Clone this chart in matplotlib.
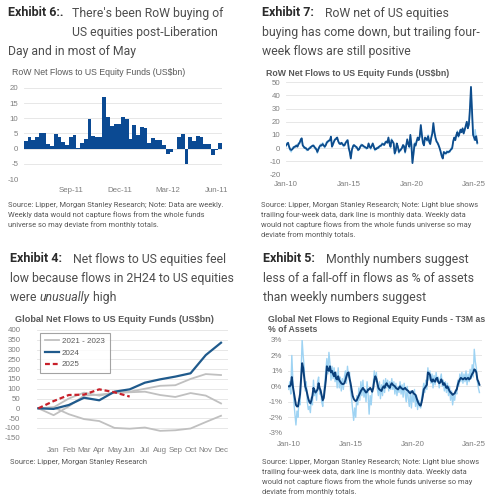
import matplotlib
matplotlib.use("Agg")
import matplotlib.pyplot as plt
from matplotlib.ticker import FuncFormatter
from matplotlib.lines import Line2D

plt.rcParams["axes.unicode_minus"] = False

# ---------------- DATA ----------------
# Exhibit 6: weekly RoW net flows to US equity funds (US$bn)
row_weekly = [2.6, 3.8, 2.7, 3.9, 5.3, 5.2, 1.4, 1.0, 4.7, 3.7,
              2.3, 1.2, 3.8, 4.4, 0.1, 1.8, 3.3, 9.7, 4.3, 3.8,
              3.8, 16.9, 10.4, 7.5, 8.0, 8.1, 10.3, 9.8, 3.3, 7.9,
              4.5, 7.2, 6.8, 2.0, 3.5, 2.9, 2.9, 1.3, -1.8, -1.2,
              0.0, 4.0, 4.7, -5.1, 3.8, 2.4, 4.3, 3.7, 1.5, 1.6,
              -2.0, -0.3, 1.8]
ex6_tick_pos = [12, 25, 38, 51]
ex6_tick_labels = ["Sep-11", "Dec-11", "Mar-12", "Jun-11"]

# Exhibit 7: RoW net flows, monthly (dark) and trailing four-week (light), Jan-10 onwards
ex7_monthly = [2, 3, 4, 1, -1, -1.5, -1, 0, 1, 1, 2, 1,
               3, 4, 6, 7.4, 2, 1, 0, 0, -1, -1.5, -0.5, 0,
               1, 1.5, 2, 1, 0, -1, -3, -1, 1, 2, 2, 3,
               2, 1, 2, 4, 5, 5.6, 6, 8.6, 1, 3, 5, 6.6,
               7, 8, 5, 3.5, 3, 4, 3, 2, 2, 4, 5, 6,
               0, -3, -8, -1.5, 1, 2.3, 1.5, 1, 0, -1.5, -1, 1,
               2, 2.3, 1.5, 1, 0.5, 0, 0, 3.5, 1, 0, 1.5, 3.5,
               1, -1, -1, 0, 0, 1, 1.5, 2, 3, 3, 2.3, 4,
               5, 4, 8, 3.5, 1, 6, 5, 3.5, -4, -2, 3.5, 1,
               -3, -2, -1, 0, 2.3, 1, -3, 2, 6.6, 3, 1, 10,
               2, -11.5, -4, 3, 2, 5, 8, 6, 9, 17.5, 10, 4,
               2, 8, 7, 6, 9, 5, 3, 8, 11, 19, 12, 8,
               5, 4, 2, 0, -3, -6, -8, -3, -4, -4, -3, -3,
               -3, -2, -1, 0, 5, 8, 6, 10, 12, 9, 11, 14,
               12, 15, 11, 14, 17, 20, 15, 18, 30, 46.5, 28, 10,
               8, 6, 9, 4]
ex7_trailing = [1, 4, 3, 0, -2, -3, 0, 1, 0, 2, 1, 2,
                4, 3, 7, 6, 3, 0, 1, -1, -2, -1, 0, 1,
                0, 2, 1, 2, -1, 0, -4, 0, 0, 3, 1, 4,
                3, 0, 3, 5, 4, 6, 5, 9, 2, 2, 6, 6,
                8, 7, 6, 3, 4, 3, 4, 1, 3, 3, 6, 5,
                1, -4, -7, -3, 2, 1, 2, 0, 1, -2, 0, 0,
                3, 1, 2, 0, 1, -1, 1, 3, 2, -1, 2, 3,
                2, -2, 0, -1, 1, 0, 2, 1, 4, 2, 3, 5,
                4, 5, 7, 4, 0, 7, 4, 4, -5, -1, 2, 2,
                -4, -1, -2, 1, 1, 2, -4, 3, 5, 4, 0, 9,
                3, -10, -5, 4, 1, 6, 7, 7, 8, 16, 11, 3,
                3, 7, 8, 5, 10, 4, 4, 7, 12, 17, 13, 7,
                6, 3, 3, -1, -2, -7, -7, -4, -3, -5, -2, -4,
                -2, -3, 0, -1, 6, 7, 7, 9, 13, 8, 12, 13,
                13, 14, 12, 13, 16, 19, 16, 17, 28, 44, 26, 12,
                6, 14, 7, 3]
date_tick_pos = [0, 60, 120, 180]
date_tick_labels = ["Jan-10", "Jan-15", "Jan-20", "Jan-25"]

# Exhibit 4: cumulative global net flows to US equity funds (US$bn)
ex4_categories = ["", "Jan", "Feb", "Mar", "Apr", "May", "Jun", "Jul",
                  "Aug", "Sep", "Oct", "Nov", "Dec"]
flows_2021 = [0, 5, 50, 80, 65, 80, 85, 100, 115, 118, 150, 175, 170]
flows_2022 = [0, 5, -30, -55, -65, -100, -104, -98, -115, -112, -103, -70, -38]
flows_2023 = [0, -35, 10, 65, 70, 78, 82, 85, 68, 58, 78, 65, 25]
flows_2024 = [0, -3, 17, 54, 41, 85, 97, 131, 148, 162, 179, 272, 335]
flows_2025 = [0, 37, 68, 70, 97, 82, 60]

# Exhibit 5: T3M flows as % of assets, monthly (dark) and trailing four-week (light)
ex5_monthly = [0, 0, 0.1, 0.6, 0, -0.4, -0.8, -1.2, -1.3, -1.3, -0.9, -0.5,
               0.5, 1.5, 1.2, 0.6, 0, -0.2, -0.5, -0.8, -1.0, -1.1, -0.9, -0.6,
               -0.1, -0.3, -0.4, -0.3, -0.2, 0.2, -0.1, -0.3, -0.6, -0.9, -0.75, -0.2,
               0.4, 1.3, 1.1, 1.0, 1.3, 0.9, 1.0, 0.8, 0.65, 0.9, 0.5, 0.45,
               0.65, 0.4, 0.3, 0.2, 0.15, 0.15, 0.2, 0.4, 0.65, 0.85, 0.9, 0.5,
               0.2, -0.2, -0.6, -0.8, -0.9, -0.95, -0.9, -0.75, -0.6, -0.45, -0.3, -0.2,
               -0.1, -0.2, -0.3, -0.4, -0.35, -0.2, -0.2, -0.1, -0.2, -0.35, -0.1, 0.4,
               0.65, 0.5, 0.2, -0.1, -0.2, -0.25, -0.3, -0.1, 0, -0.1, 0.1, 0.2,
               0.05, 0, -0.1, 0.1, 0.2, 0.1, 0.05, 0, -0.1, -0.15, -0.2, -0.1,
               0, -0.1, -0.15, -0.2, -0.15, -0.1, -0.2, -0.25, -0.3, -0.4, -0.45, -0.35,
               -0.3, -0.45, -0.5, -0.55, -0.75, -0.95, -1.1, -1.2, -1.25, -1.0, -0.65, -0.2,
               -0.1, 0, 0.1, 0.9, 0.85, 0.75, 0.4, 0.3, 0.45, 0.35, 0.3, 0.5,
               0.55, 0.3, 0.2, 0.25, 0.45, 0.3, 0.1, 0.2, 0.05, -0.1, 0, -0.15,
               -0.3, -0.4, -0.45, -0.55, -0.5, -0.45, -0.3, -0.2, 0.1, 0.3, 0.45, 0.55,
               0.5, 0.45, 0.5, 0.55, 0.45, 0.5, 0.55, 0.45, 0.5, 0.65, 0.8, 0.9,
               1.1, 1.05, 0.9, 0.45, 0.3, 0.1]
ex5_trailing = [-0.2, 0.3, -0.5, 2.0, 0.4, -1.0, -1.8, -2.5, -1.6, -2.0, -0.8, -1.2,
                1.0, 3.0, 2.0, 1.2, -0.3, 0.3, -1.0, -1.5, -1.3, -1.7, -0.7, -1.2,
                0.4, -0.6, -0.2, -0.9, 0.3, 0.6, -0.5, -0.2, -1.0, -1.3, -0.4, 0.3,
                1.0, 1.8, 0.8, 2.2, 1.5, 0.4, 1.3, 0.5, 1.2, 0.3, 0.9, -0.1,
                1.2, -0.1, 0.6, -0.3, 0.5, -0.2, 0.6, 1.0, 0.2, 1.3, 0.6, 0.9,
                -0.3, -0.8, -1.5, -2.2, -1.4, -2.0, -0.6, -1.2, -0.1, -0.9, 0.3, -0.6,
                0.4, -0.7, -0.2, -1.0, 0.3, -0.5, -1.8, -0.6, -1.2, -0.3, 0.2, 1.0,
                0.3, 0.9, -0.2, -0.6, 0.3, -0.8, 0.1, -0.6, 0.4, -0.4, 0.5, -0.1,
                0.4, -0.3, 0.3, -0.2, 0.5, -0.2, 0.3, -0.5, 0.2, -0.6, 0.0, -0.4,
                0.3, -0.5, 0.1, -0.7, 0.2, -0.5, -1.0, 0.0, -0.8, -1.3, -0.3, -1.4,
                -0.5, -1.0, -0.2, -1.3, -0.6, -1.5, -0.9, -1.3, -1.4, -0.7, -0.3, 0.2,
                -0.4, 0.4, -0.2, 1.2, 0.4, 1.0, 0.2, 0.8, -0.1, 0.7, 0.1, 0.9,
                0.3, 0.6, -0.1, 0.5, 0.8, 0.0, 0.4, -0.3, 0.3, -0.4, 0.2, -0.6,
                0.0, -0.9, -0.3, -1.2, -0.6, -0.9, -0.2, -0.5, 0.4, 0.0, 0.8, 0.3,
                0.9, 0.2, 0.8, 0.3, 1.0, 0.1, 0.8, 0.3, 1.1, 0.5, 1.4, 0.6,
                2.4, 1.6, 1.2, 0.3, -0.1, -0.4]

# ---------------- STYLE ----------------
W, H = 492, 500
fig = plt.figure(figsize=(W / 100, H / 100), dpi=100)
fig.patch.set_facecolor("white")

CHART_FONT = ["Liberation Sans", "DejaVu Sans"]
TITLE_FONT = ["Roboto", "DejaVu Sans"]
TICK_COLOR = "#7f7f7f"
GRID_COLOR = "#e3e3e3"
SRC_COLOR = "#555555"
TITLE_COLOR = "#4d4d4d"
TSIZE = 8.85


def px(x, y):
    return x / W, 1 - y / H


def add_axes(l, t, r, b):
    return fig.add_axes([l / W, 1 - b / H, (r - l) / W, (b - t) / H])


def style_axes(ax, yticks):
    for s in ax.spines.values():
        s.set_visible(False)
    ax.set_yticks(yticks)
    ax.grid(axis="y", color=GRID_COLOR, lw=0.6)
    ax.set_axisbelow(True)
    ax.tick_params(length=0, labelsize=5.7, labelcolor=TICK_COLOR, pad=4)
    for lab in ax.get_xticklabels() + ax.get_yticklabels():
        lab.set_family(CHART_FONT)


def ttext(x, y, s, **kw):
    opts = dict(family=TITLE_FONT, fontsize=TSIZE, color=TITLE_COLOR, va="center", ha="left")
    opts.update(kw)
    return fig.text(*px(x, y), s, **opts)


def title(x, y, bold_txt, rest, lines):
    ttext(x, y, bold_txt, weight="bold", fontsize=9, color="#2b2b2b")
    ttext(x + rest[0], y, rest[1])
    for i, ln in enumerate(lines):
        ttext(ln[0], y + 19.3 * (i + 1), ln[1])


def source(x, y, lines):
    for i, ln in enumerate(lines):
        fig.text(*px(x, y + 9.9 * i), ln, family=TITLE_FONT, fontsize=5.45,
                 color=SRC_COLOR, va="center", ha="left")


# ---------------- Exhibit 6 ----------------
title(8, 13, "Exhibit 6:.", (64, "There's been RoW buying of"),
      [(72, "US equities post-Liberation"), (8, "Day and in most of May")])
fig.text(*px(12, 72.5), "RoW Net Flows to US Equity Funds (US$bn)", family=CHART_FONT,
         fontsize=6.3, color="#595959", va="center")
ax1 = add_axes(24, 88, 222, 179)
ax1.bar(range(len(row_weekly)), row_weekly, width=1.0, color="#0b4a93", linewidth=0)
ax1.set_xlim(-0.5, len(row_weekly) - 0.5)
ax1.set_ylim(-10, 20)
ax1.set_xticks(ex6_tick_pos)
ax1.set_xticklabels(ex6_tick_labels)
style_axes(ax1, [-10, -5, 0, 5, 10, 15, 20])
ax1.tick_params(axis="x", pad=6)
source(8, 204.5, ["Source: Lipper, Morgan Stanley Research; Note: Data are weekly.",
                  "Weekly data would not capture flows from the whole funds",
                  "universe so may deviate from monthly totals."])

# ---------------- Exhibit 7 ----------------
title(262, 13, "Exhibit 7:", (63, "RoW net of US equities"),
      [(262, "buying has come down, but trailing four-"), (262, "week flows are still positive")])
fig.text(*px(266, 73), "RoW Net Flows to US Equity Funds (US$bn)", family=CHART_FONT,
         fontsize=6.3, weight="bold", color="#595959", va="center")
ax2 = add_axes(286, 82.3, 483, 174.3)
ax2.plot(range(len(ex7_trailing)), ex7_trailing, color="#9ed3f3", lw=1.0)
ax2.plot(range(len(ex7_monthly)), ex7_monthly, color="#0d4c8c", lw=1.3)
ax2.set_xlim(0, 188.5)
ax2.set_ylim(-20, 50)
ax2.set_xticks(date_tick_pos)
ax2.set_xticklabels(date_tick_labels)
style_axes(ax2, list(range(-20, 51, 10)))
ax2.tick_params(axis="x", pad=5)
source(261, 204.5, ["Source: Lipper, Morgan Stanley Research; Note: Light blue shows",
                    "trailing four-week data, dark line is monthly data. Weekly data",
                    "would not capture flows from the whole funds universe so may",
                    "deviate from monthly totals."])

# ---------------- Exhibit 4 ----------------
ttext(10, 259, "Exhibit 4:", weight="bold", fontsize=9, color="#2b2b2b")
ttext(73, 259, "Net flows to US equities feel")
ttext(10, 278.3, "low because flows in 2H24 to US equities")
fig.canvas.draw()
rend = fig.canvas.get_renderer()
xcur = 10
for txt, sty in [("were ", "normal"), ("unusually", "italic"), (" high", "normal")]:
    t = ttext(xcur, 297.6, txt, style=sty)
    xcur = t.get_window_extent(rend).x1
fig.text(*px(15, 320), "Global Net Flows to US Equity Funds (US$bn)", family=CHART_FONT,
         fontsize=6.6, weight="bold", color="#595959", va="center")
ax3 = add_axes(37, 330, 228, 437.7)
xs = range(len(ex4_categories))
ax3.plot(xs, flows_2021, color="#c0c0c0", lw=1.3)
ax3.plot(xs, flows_2022, color="#c0c0c0", lw=1.3)
ax3.plot(xs, flows_2023, color="#c0c0c0", lw=1.3)
ax3.plot(xs, flows_2024, color="#1f5a8c", lw=1.6)
ax3.plot(range(len(flows_2025)), flows_2025, color="#c8202a", lw=1.6, ls=(0, (2.2, 1.3)))
ax3.set_xlim(-0.09, 12.46)
ax3.set_ylim(-150, 400)
ax3.set_xticks(list(xs))
ax3.set_xticklabels(ex4_categories)
style_axes(ax3, list(range(-150, 401, 50)))
ax3.tick_params(axis="x", pad=7)
ax3.tick_params(axis="y", pad=12)
handles = [Line2D([], [], color="#c0c0c0", lw=1.3),
           Line2D([], [], color="#1f5a8c", lw=1.6),
           Line2D([], [], color="#c8202a", lw=1.6, ls=(0, (2.2, 1.3)))]
leg = ax3.legend(handles, ["2021 - 2023", "2024", "2025"], loc="upper left",
                 bbox_to_anchor=(0.016, 0.975), borderaxespad=0, frameon=True,
                 fancybox=False, handlelength=1.7, handletextpad=0.4,
                 labelspacing=0.5, borderpad=0.6,
                 prop={"family": CHART_FONT, "size": 5.8})
leg.get_frame().set_edgecolor("#8c8c8c")
leg.get_frame().set_linewidth(0.8)
for t in leg.get_texts():
    t.set_color("#595959")
source(10, 462, ["Source: Lipper, Morgan Stanley Research"])

# ---------------- Exhibit 5 ----------------
ttext(263, 259, "Exhibit 5:", weight="bold", fontsize=9, color="#2b2b2b")
ttext(326, 259, "Monthly numbers suggest")
ttext(263, 278.3, "less of a fall-off in flows as % of assets")
ttext(263, 297.6, "than weekly numbers suggest")
fig.text(*px(268, 319), "Global Net Flows to Regional Equity Funds - T3M as",
         family=CHART_FONT, fontsize=6.3, weight="bold", color="#595959", va="center")
fig.text(*px(268, 329), "% of Assets", family=CHART_FONT, fontsize=6.3, weight="bold",
         color="#595959", va="center")
ax4 = add_axes(288, 340, 482, 432.7)
ax4.plot(range(len(ex5_trailing)), ex5_trailing, color="#9ed3f3", lw=1.0)
ax4.plot(range(len(ex5_monthly)), ex5_monthly, color="#0a3f7a", lw=1.4)
ax4.set_xlim(-0.7, 187.5)
ax4.set_ylim(-3, 3)
ax4.set_xticks(date_tick_pos)
ax4.set_xticklabels(date_tick_labels)
style_axes(ax4, [-3, -2, -1, 0, 1, 2, 3])
ax4.yaxis.set_major_formatter(FuncFormatter(lambda v, p: f"{v:.0f}%"))
ax4.tick_params(axis="x", pad=6)
source(262, 462, ["Source: Lipper, Morgan Stanley Research; Note: Light blue shows",
                  "trailing four-week data, dark line is monthly data. Weekly data",
                  "would not capture flows from the whole funds universe so may",
                  "deviate from monthly totals."])

fig.savefig("out.png", dpi=100, facecolor="white")
